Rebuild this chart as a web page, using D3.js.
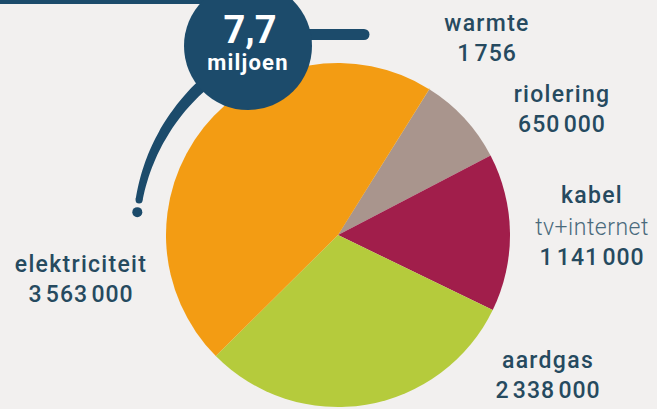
<!DOCTYPE html>
<html>
<head>
<meta charset="utf-8">
<script src="https://cdn.jsdelivr.net/npm/d3@7"></script>
<style>
  html, body { margin: 0; padding: 0; background: #f2f0ef; }
  svg { display: block; }
</style>
</head>
<body>
<div id="chart"></div>
<script>
const width = 657;
const height = 409;

// aansluitingen per net
const categories = ["warmte", "riolering", "kabel", "aardgas", "elektriciteit"];
const subLabels = ["", "", "tv+internet", "", ""];
const values = [1756, 650000, 1141000, 2338000, 3563000];
const colors = ["#f3d9a0", "#a9958d", "#a11e4b", "#b5cb3c", "#f39c13"];
const totalLabel = "7,7";
const totalUnit = "miljoen";

// label plek (midden x, basislijn eerste regel)
const labelPos = [[487, 31], [562, 102], [592, 203], [548, 368], [81, 272]];

const navy = "#1c4b6b";
const textColor = "#264a5f";

const nl = d3.formatLocale({ decimal: ",", thousands: "\u200A", grouping: [3], currency: ["€", ""] });
const fmt = nl.format(",d");

const svg = d3.select("#chart").append("svg")
  .attr("width", width)
  .attr("height", height)
  .attr("viewBox", [0, 0, width, height]);

const cx = 338, cy = 235, radius = 172;
const a0 = 32 * Math.PI / 180;

const pie = d3.pie().sort(null).value(d => d).startAngle(a0).endAngle(a0 + 2 * Math.PI);
const arc = d3.arc().innerRadius(0).outerRadius(radius);
const arcs = pie(values);

const g = svg.append("g").attr("transform", `translate(${cx},${cy})`);

g.selectAll("path.slice")
  .data(arcs)
  .join("path")
  .attr("class", "slice")
  .attr("d", arc)
  .attr("fill", (d, i) => colors[i])
  .attr("stroke", (d, i) => i === 0 ? colors[0] : "none")
  .attr("stroke-width", 1.5);

// bovenlijn
svg.append("line")
  .attr("x1", 0).attr("x2", 230)
  .attr("y1", 2).attr("y2", 2)
  .attr("stroke", navy).attr("stroke-width", 4);

// staart (boog rond de taart)
const tailR = 202;
const deg = Math.PI / 180;
const tailPts = d3.range(280, 322, 2).map(a => ({ a: a * deg, w: 7 + (a - 280) / 40 * 5 }));
const tail = d3.areaRadial()
  .angle(d => d.a)
  .innerRadius(d => tailR - d.w / 2)
  .outerRadius(d => tailR + d.w / 2)
  .curve(d3.curveCatmullRom);
g.append("path").attr("d", tail(tailPts)).attr("fill", navy);
g.append("circle")
  .attr("cx", tailR * Math.sin(280 * deg))
  .attr("cy", -tailR * Math.cos(280 * deg))
  .attr("r", 3.5).attr("fill", navy);
g.append("circle")
  .attr("cx", tailR * Math.sin(276.5 * deg))
  .attr("cy", -tailR * Math.cos(276.5 * deg))
  .attr("r", 5).attr("fill", navy);

// handvat
svg.append("line")
  .attr("x1", 290).attr("x2", 364)
  .attr("y1", 34.5).attr("y2", 34.5)
  .attr("stroke", navy).attr("stroke-width", 11)
  .attr("stroke-linecap", "round");

// totaal badge
svg.append("circle").attr("cx", 248).attr("cy", 46).attr("r", 64).attr("fill", navy);
svg.append("text")
  .attr("x", 250).attr("y", 43)
  .attr("text-anchor", "middle")
  .attr("fill", "#fff")
  .style("font-family", "Roboto, sans-serif")
  .style("font-weight", 700)
  .style("font-size", "38px")
  .text(totalLabel);
svg.append("text")
  .attr("x", 248).attr("y", 70)
  .attr("text-anchor", "middle")
  .attr("fill", "#fff")
  .style("font-family", "Roboto, sans-serif")
  .style("font-weight", 700)
  .style("font-size", "22px")
  .style("letter-spacing", "1.2px")
  .text(totalUnit);

// labels
const labels = svg.selectAll("g.label")
  .data(categories)
  .join("g")
  .attr("class", "label")
  .attr("transform", (d, i) => `translate(${labelPos[i][0]},${labelPos[i][1]})`)
  .style("font-family", "Roboto, sans-serif")
  .style("font-size", "23px")
  .attr("text-anchor", "middle");

labels.each(function (d, i) {
  const sel = d3.select(this);
  let y = 0;
  sel.append("text").attr("y", y).attr("fill", textColor)
    .style("font-weight", 500).style("letter-spacing", "1.3px").text(d);
  if (subLabels[i]) {
    y += 32;
    sel.append("text").attr("y", y).attr("fill", "#4a6a7c")
      .style("font-weight", 300).style("letter-spacing", "0.5px").text(subLabels[i]);
  }
  y += 30;
  sel.append("text").attr("y", y).attr("fill", textColor)
    .style("font-weight", 500).style("letter-spacing", "1px").text(fmt(values[i]));
});
</script>
</body>
</html>
